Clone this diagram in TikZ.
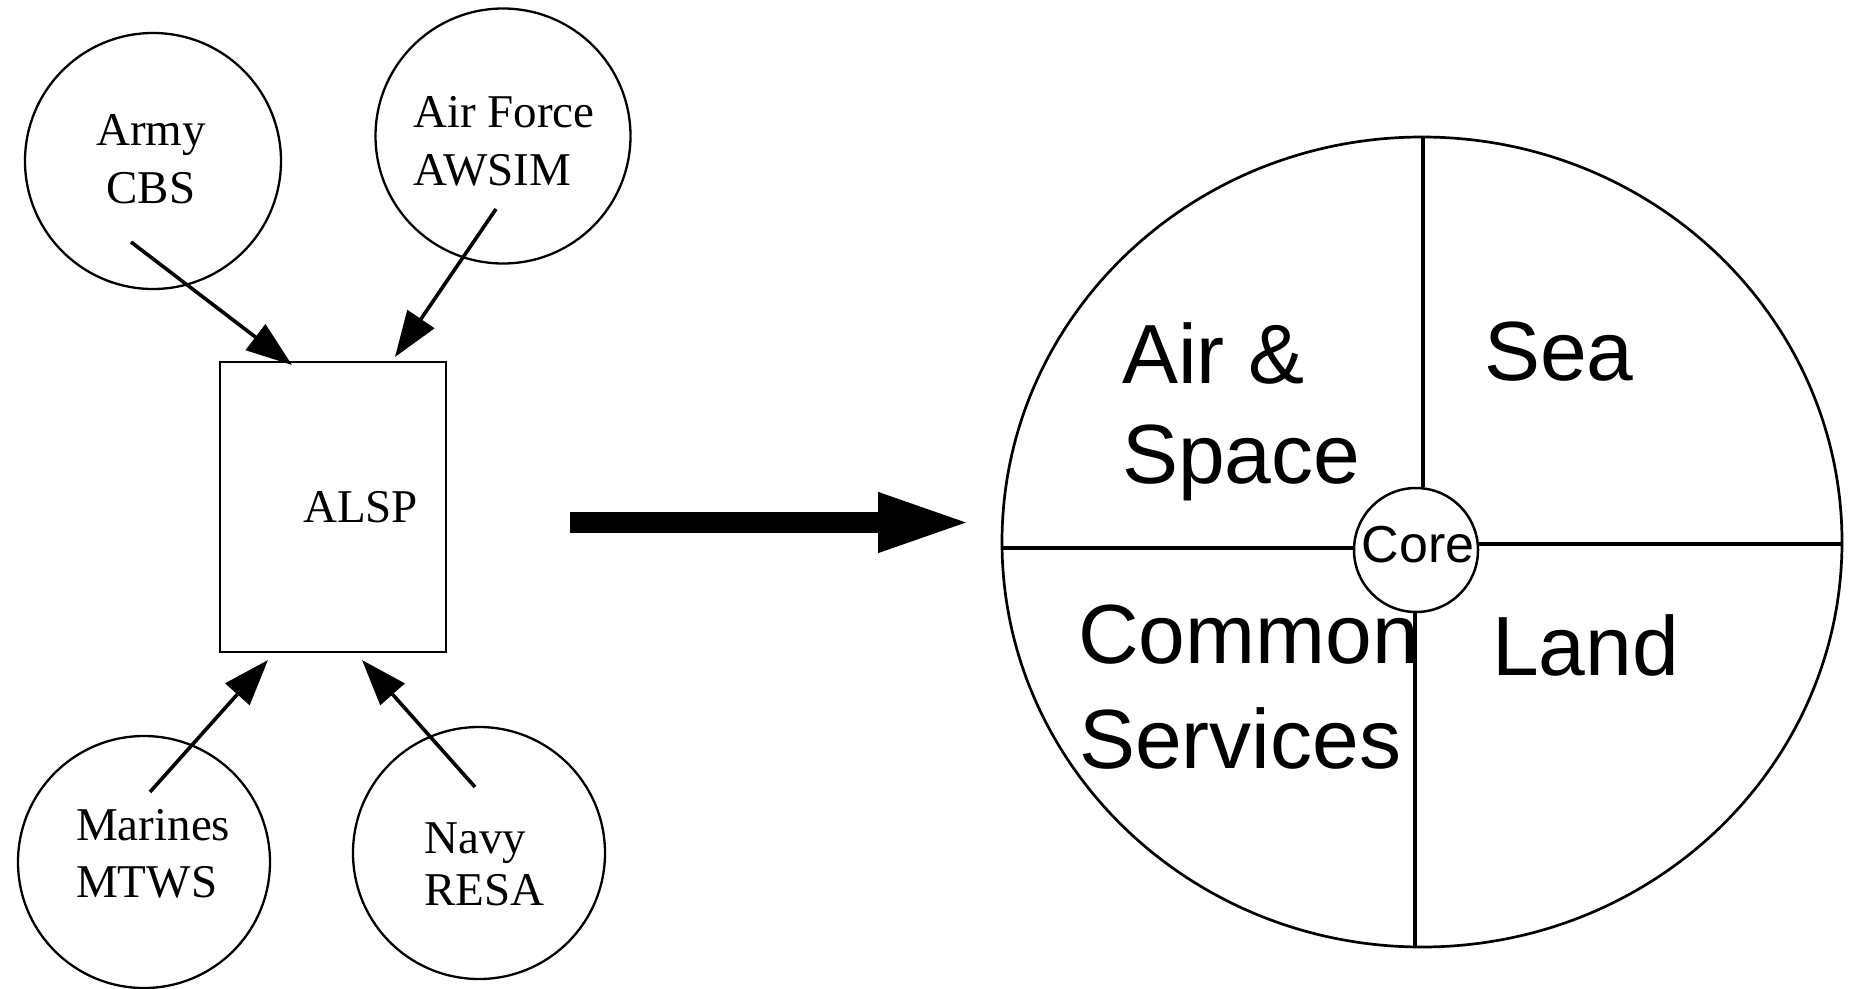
\documentclass[tikz,border=0pt]{standalone}
\usepackage{fontspec}
\setmainfont{Liberation Serif}
\newfontfamily\arialfam{Liberation Sans}
\usetikzlibrary{arrows.meta,shapes.geometric}
\begin{document}
\begin{tikzpicture}[x=1pt,y=-1pt,
  svc/.style={draw, circle, line width=2.3pt, inner sep=0pt},
  lbl/.style={font=\fontsize{47}{57}\selectfont, inner sep=0pt},
  big/.style={font=\arialfam\fontsize{84}{102}\selectfont, inner sep=0pt, anchor=base west},
  feed/.style={line width=3.6pt, -{Triangle[length=46pt,width=32pt]}},
  part/.style={line width=3.2pt}]
\useasboundingbox (0,0) rectangle (1852,988);

% service circles
\node[svc, minimum size=256pt] (army) at (153,161) {};
\node[svc, minimum size=255pt] (af) at (503,136) {};
\node[svc, minimum size=252pt] (mar) at (144,862) {};
\node[svc, minimum size=252pt] (navy) at (479,853) {};

\node[lbl, anchor=base] (armyA) at (151,145) {Army};
\node[lbl, anchor=base] (armyB) at (151,203) {CBS};
\node[lbl, anchor=base west] (afA) at (413,127) {Air Force};
\node[lbl, anchor=base west] (afB) at (413,185) {AWSIM};
\node[lbl, anchor=base west] (mA) at (76,840) {Marines};
\node[lbl, anchor=base west] (mB) at (76,897) {MTWS};
\node[lbl, anchor=base west] (nA) at (424,853) {Navy};
\node[lbl, anchor=base west] (nB) at (424,905) {RESA};

% ALSP box
\node[draw, line width=2.7pt, minimum width=226pt, minimum height=290pt, inner sep=0pt] (alsp) at (333,507) {};
\node[lbl, anchor=base west] (alspT) at (303,522) {ALSP};

% feed arrows
\coordinate (armyS) at (131,242); \coordinate (armyE) at (292,365);
\coordinate (afS) at (496,209);   \coordinate (afE) at (395,357);
\coordinate (mS) at (150,792);    \coordinate (mE) at (268,660);
\coordinate (nS) at (475,787);    \coordinate (nE) at (362,660);
\draw[feed] (armyS) -- (armyE);
\draw[feed] (afS) -- (afE);
\draw[feed] (mS) -- (mE);
\draw[feed] (nS) -- (nE);

% big arrow
\coordinate (bigS) at (570,522.5); \coordinate (bigE) at (972,522.5);
\draw[line width=21pt, -{Triangle[length=94pt,width=54pt]}] (bigS) -- (bigE);

% world circle
\node[draw, ellipse, line width=2.7pt, minimum width=840pt, minimum height=810pt, inner sep=0pt] (world) at (1422,542) {};
\node[draw, circle, line width=2.5pt, minimum size=124pt, inner sep=0pt] (core) at (1416,550) {};
\node[font=\arialfam\fontsize{52}{60}\selectfont, anchor=base, inner sep=0pt] (coreT) at (1418,562) {Core};

\coordinate (vt) at (1423,137); \coordinate (vb) at (1415,947);
\coordinate (hl) at (1002,548); \coordinate (hr) at (1842,544);
\draw[part] (vt) -- (vt |- core.north);
\draw[part] (vb |- core.south) -- (vb);
\draw[part] (hl) -- (hl -| core.west);
\draw[part] (core.east |- hr) -- (hr);

\node[big] (airT1) at (1122,383) {Air \&};
\node[big] (airT2) at (1122,483) {Space};
\node[big] (seaT) at (1484,380) {Sea};
\node[big] (comT1) at (1078,663) {Common};
\node[big] (comT2) at (1079,768) {Services};
\node[big] (landT) at (1492,675) {Land};
\end{tikzpicture}
\end{document}
